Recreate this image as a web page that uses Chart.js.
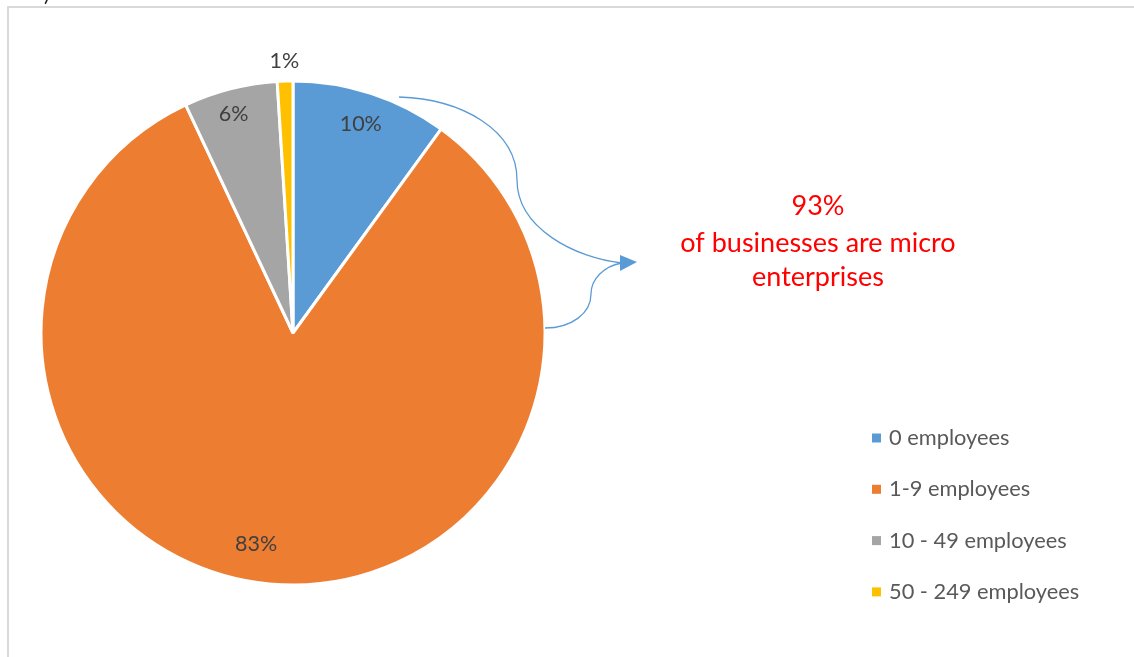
<!DOCTYPE html>
<html>
<head>
<meta charset="utf-8">
<script src="https://cdn.jsdelivr.net/npm/chart.js@4/dist/chart.umd.min.js"></script>
<style>
  html, body { margin: 0; padding: 0; background: #ffffff; }
  #wrap { position: relative; width: 1134px; height: 657px; }
  canvas { display: block; }
</style>
</head>
<body>
<div id="wrap"><canvas id="c" width="1134" height="657"></canvas></div>
<script>
// Business size bands and their share of all businesses (%)
const categories = ['0 employees', '1-9 employees', '10 - 49 employees', '50 - 249 employees'];
const shares = [10, 83, 6, 1];
const sliceColors = ['#5b9bd5', '#ed7d31', '#a5a5a5', '#ffc000'];
const calloutLines = ['93%', 'of businesses are micro', 'enterprises'];

const FONT = 'Lato, "Open Sans", sans-serif';

// Thin grey frame along the left and top edges
const framePlugin = {
  id: 'frame',
  beforeDraw(chart) {
    const ctx = chart.ctx;
    ctx.save();
    ctx.strokeStyle = '#d9d9d9';
    ctx.lineWidth = 2;
    ctx.beginPath();
    ctx.moveTo(8, 657);
    ctx.lineTo(8, 7);
    ctx.lineTo(1134, 7);
    ctx.stroke();
    ctx.fillStyle = '#262626';
    ctx.font = '21px ' + FONT;
    ctx.textBaseline = 'alphabetic';
    ctx.fillText(')', 44, 1);
    ctx.restore();
  }
};

// Percentage labels on (or just outside) each slice
const sliceLabelPlugin = {
  id: 'sliceLabels',
  afterDatasetsDraw(chart, args, opts) {
    const ctx = chart.ctx;
    const meta = chart.getDatasetMeta(0);
    ctx.save();
    ctx.font = opts.font;
    ctx.fillStyle = opts.color;
    ctx.textAlign = 'center';
    ctx.textBaseline = 'middle';
    meta.data.forEach((arc, i) => {
      const p = arc.getProps(['x', 'y', 'startAngle', 'endAngle', 'outerRadius']);
      const place = opts.placement[i] || { r: 0.87, a: 0 };
      const mid = (p.startAngle + p.endAngle) / 2 + (place.a || 0) * Math.PI / 180;
      const d = p.outerRadius * place.r;
      const x = p.x + Math.cos(mid) * d;
      const y = p.y + Math.sin(mid) * d;
      ctx.fillText(chart.data.datasets[0].data[i] + '%', x, y);
    });
    ctx.restore();
  }
};

// Brace with an arrow pointing at the callout text, plus the callout itself
const calloutPlugin = {
  id: 'callout',
  afterDraw(chart) {
    const ctx = chart.ctx;
    ctx.save();
    ctx.strokeStyle = '#5b9bd5';
    ctx.fillStyle = '#5b9bd5';
    ctx.lineWidth = 1.3;
    ctx.beginPath();
    ctx.moveTo(399, 97);
    ctx.bezierCurveTo(462, 99, 517, 130, 517, 180);
    ctx.bezierCurveTo(517, 228, 575, 258, 622, 263);
    ctx.stroke();
    ctx.beginPath();
    ctx.moveTo(622, 263);
    ctx.bezierCurveTo(604, 266, 591, 279, 591, 294);
    ctx.bezierCurveTo(591, 313, 572, 328, 545, 328);
    ctx.stroke();
    ctx.beginPath();
    ctx.moveTo(637, 262);
    ctx.lineTo(620, 255);
    ctx.lineTo(620, 271);
    ctx.closePath();
    ctx.fill();

    ctx.fillStyle = '#ff0000';
    ctx.font = '27px ' + FONT;
    ctx.textAlign = 'center';
    ctx.textBaseline = 'middle';
    const ys = [206, 243, 277];
    calloutLines.forEach((t, i) => ctx.fillText(t, 818, ys[i]));
    ctx.restore();
  }
};

// Legend: small squares with category names, stacked on the right
const legendPlugin = {
  id: 'sideLegend',
  afterDraw(chart) {
    const ctx = chart.ctx;
    const ds = chart.data.datasets[0];
    ctx.save();
    ctx.font = '21.8px ' + FONT;
    ctx.textAlign = 'left';
    ctx.textBaseline = 'middle';
    chart.data.labels.forEach((lab, i) => {
      const y = 438 + i * 51.3;
      ctx.fillStyle = ds.backgroundColor[i];
      ctx.fillRect(872, y - 4.5, 9, 9);
      ctx.fillStyle = '#595959';
      ctx.fillText(lab, 889, y);
    });
    ctx.restore();
  }
};

new Chart(document.getElementById('c'), {
  type: 'pie',
  data: {
    labels: categories,
    datasets: [{
      data: shares,
      backgroundColor: sliceColors,
      borderColor: '#ffffff',
      borderWidth: 3
    }]
  },
  options: {
    responsive: false,
    animation: false,
    radius: 252,
    layout: { padding: { left: 20, right: 568, top: 20, bottom: 11 } },
    plugins: {
      legend: { display: false },
      tooltip: { enabled: false },
      sliceLabels: {
        font: '21.5px ' + FONT,
        color: '#404040',
        placement: [{ r: 0.87, a: 0 }, { r: 0.85, a: 4.5 }, { r: 0.9, a: -0.8 }, { r: 1.08, a: 0 }]
      }
    }
  },
  plugins: [framePlugin, sliceLabelPlugin, calloutPlugin, legendPlugin]
});
</script>
</body>
</html>
